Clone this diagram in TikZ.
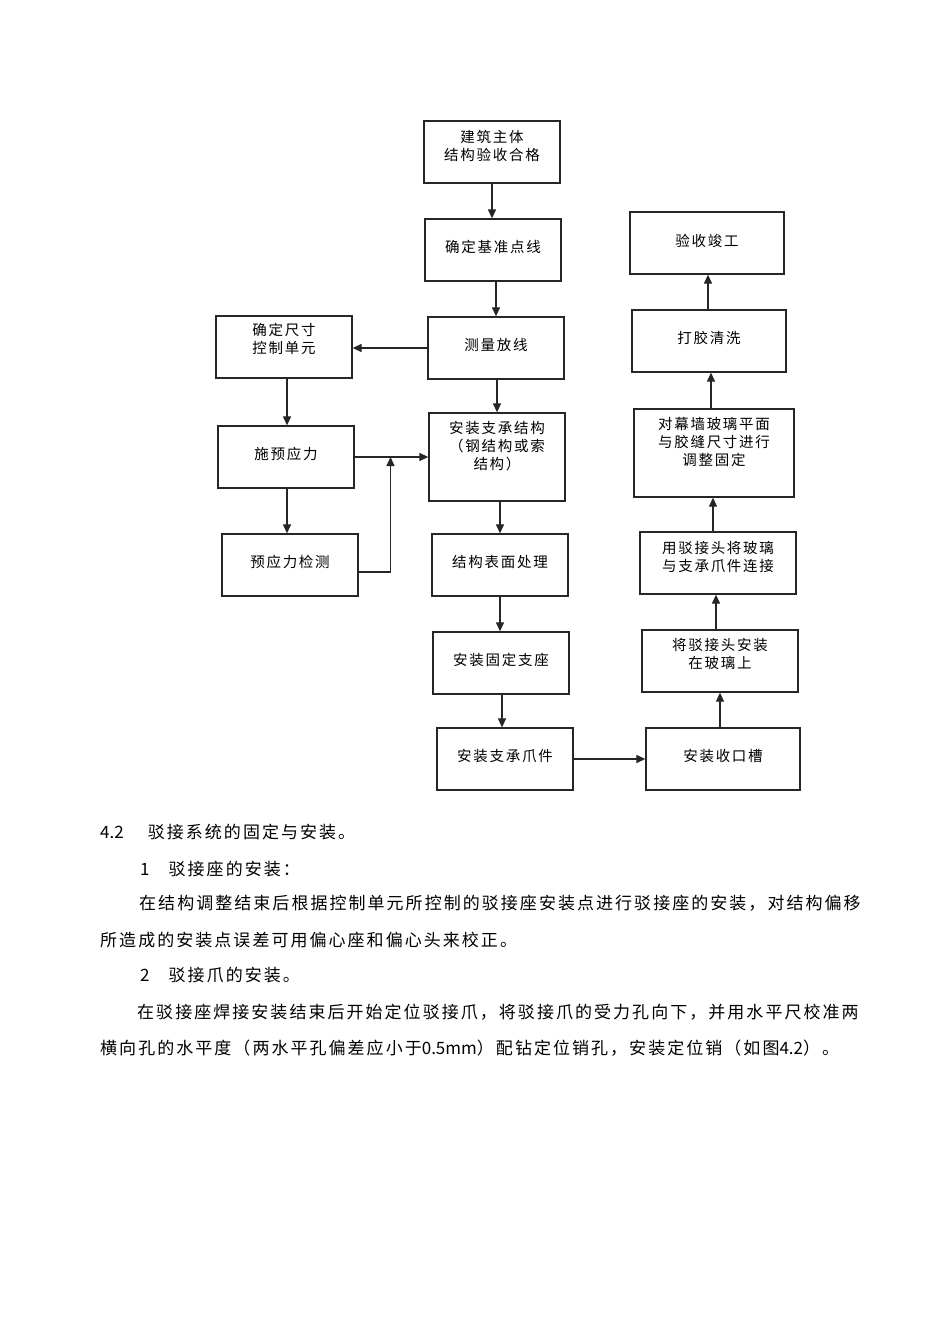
\documentclass[tikz,border=0pt]{standalone}
\usepackage{fontspec}
\setmainfont{Noto Sans CJK SC}[LetterSpace=12]
\newfontfamily\latin{Noto Sans CJK SC}
\usetikzlibrary{arrows.meta}
% lines of a box, lifted by #1
\newcommand{\boxlines}[2]{\raisebox{#1}[0pt][0pt]{\begin{tabular}{@{}c@{}}#2\end{tabular}}}

\begin{document}
\begin{tikzpicture}[x=1pt,y=-1pt,
        box/.style={draw=black!85,line width=1.3pt,minimum width=136pt,minimum height=62pt,
            inner sep=0pt,font=\fontsize{14.5pt}{18pt}\selectfont},
        arr/.style={draw=black!85,line width=1.2pt,-{Triangle[length=9pt,width=8pt]}},
        body/.style={anchor=base west,inner sep=0pt,font=\fontsize{17pt}{20pt}\selectfont}]
    \useasboundingbox[fill=white] (0,0) rectangle (950,1344);

    % middle column
    \node[box] (accept) at (492,152) {\boxlines{1pt}{建筑主体\\结构验收合格}};
    \node[box] (base) at (493,250) {\boxlines{-2.5pt}{确定基准点线}};
    \node[box] (survey) at (496,348) {\boxlines{-2.5pt}{测量放线}};
    \node[box,minimum height=88pt] (support) at (497,457) {\boxlines{6pt}{安装支承结构\\（钢结构或索\\结构）}};
    \node[box] (surface) at (500,565) {\boxlines{-2.5pt}{结构表面处理}};
    \node[box] (seat) at (501,663) {\boxlines{-2.5pt}{安装固定支座}};
    \node[box] (claw) at (505,759) {\boxlines{-2.5pt}{安装支承爪件}};

    % left column
    \node[box] (unit) at (284,347) {\boxlines{2.5pt}{确定尺寸\\控制单元}};
    \node[box] (prestress) at (286,457) {\boxlines{-2.5pt}{施预应力}};
    \node[box] (check) at (290,565) {\boxlines{-2.5pt}{预应力检测}};

    % right column
    \node[box,minimum width=154pt] (groove) at (723,759) {\boxlines{-2.5pt}{安装收口槽}};
    \node[box,minimum width=156pt] (joint) at (720,661) {\boxlines{1.5pt}{将驳接头安装\\在玻璃上}};
    \node[box,minimum width=156pt] (link) at (718,563) {\boxlines{1pt}{用驳接头将玻璃\\与支承爪件连接}};
    \node[box,minimum width=160pt,minimum height=88pt] (adjust) at (714,453) {\boxlines{6pt}{对幕墙玻璃平面\\与胶缝尺寸进行\\调整固定}};
    \node[box,minimum width=154pt] (seal) at (709,341) {\boxlines{-2.5pt}{打胶清洗}};
    \node[box,minimum width=154pt] (finish) at (707,243) {\boxlines{-3.5pt}{验收竣工}};

    % connectors
    \draw[arr] (accept.south) -- (accept.south |- base.north);
    \draw[arr] (base.south -| survey) -- (survey.north);
    \draw[arr] (survey.west) -- (survey.west -| unit.east);
    \draw[arr] (survey.south -| support) -- (support.north);
    \draw[arr] (unit.south -| 287,0) -- (287,0 |- prestress.north);
    \draw[arr] (prestress.south -| 287,0) -- (287,0 |- check.north);
    \draw[arr] (prestress.east) -- (prestress.east -| support.west);
    \coordinate (join) at (390.5,457);
    \draw[arr] ([yshift=-7pt]check.east) -| (join);
    \draw[arr] (support.south -| surface) -- (surface.north);
    \draw[arr] (surface.south) -- (surface.south |- seat.north);
    \draw[arr] (seat.south -| 502,0) -- (502,0 |- claw.north);
    \draw[arr] (claw.east) -- (claw.east -| groove.west);
    \draw[arr] (joint.south |- groove.north) -- (joint.south);
    \draw[arr] (716,0 |- joint.north) -- (link.south -| 716,0);
    \draw[arr] (713,0 |- link.north) -- (adjust.south -| 713,0);
    \draw[arr] (711,0 |- adjust.north) -- (seal.south -| 711,0);
    \draw[arr] (708,0 |- seal.north) -- (finish.south -| 708,0);

    % text below
    \node[body] (t1) at (100,838.5) {{\latin 4.2}\hspace{5pt}　驳接系统的固定与安装。};
    \node[body] (t2) at (140,875.5) {{\latin 1}　驳接座的安装：};
    \node[body] (t3) at (139,909.5) {在结构调整结束后根据控制单元所控制的驳接座安装点进行驳接座的安装，对结构偏移};
    \node[body] (t4) at (100,946.5) {所造成的安装点误差可用偏心座和偏心头来校正。};
    \node[body] (t5) at (140,981.5) {{\latin 2}　驳接爪的安装。};
    \node[body] (t6) at (137,1018.5) {在驳接座焊接安装结束后开始定位驳接爪，将驳接爪的受力孔向下，并用水平尺校准两};
    \node[body] (t7) at (100,1054.5) {横向孔的水平度（两水平孔偏差应小于{\latin 0.5mm}）配钻定位销孔，安装定位销（如图{\latin 4.2}）。};
\end{tikzpicture}
\end{document}
